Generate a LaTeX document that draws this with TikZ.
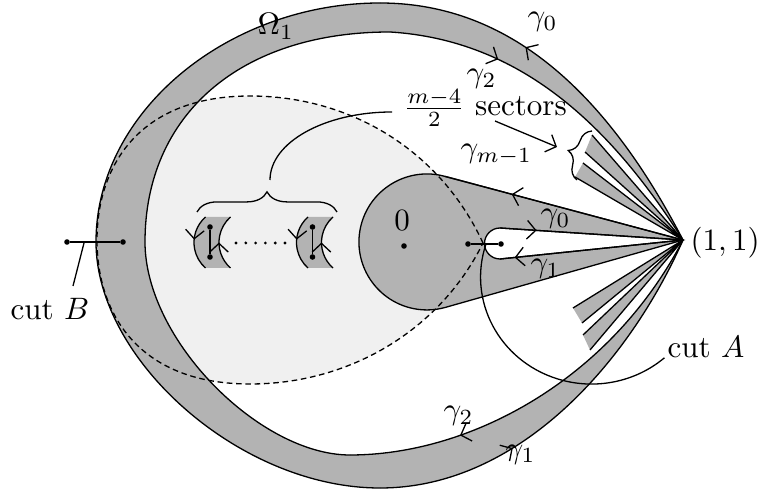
\documentclass[tikz,border=0pt]{standalone}
\usetikzlibrary{arrows.meta,decorations.markings,decorations.pathreplacing}
\definecolor{bandgray}{RGB}{179,179,179}
\definecolor{lightfill}{RGB}{240,240,240}
\begin{document}
\begin{tikzpicture}[x=0.3225pt,y=-0.3225pt,line width=0.42pt,
  >={Straight Barb[length=2.8pt,width=6pt]},
  fwd/.style={postaction={decorate,decoration={markings,mark=at position #1 with {\arrow{>}}}}},
  bwd/.style={postaction={decorate,decoration={markings,mark=at position #1 with {\arrowreversed{>}}}}},
  lbl/.style={inner sep=0pt,anchor=base west},
  bigdot/.style={circle,fill=black,inner sep=0pt,minimum size=1.8pt},
  smalldot/.style={circle,fill=black,inner sep=0pt,minimum size=1pt},
  dashline/.style={dash pattern=on 1.8pt off 1.2pt},
  stripfill/.style={fill=bandgray},
  bracestyle/.style={decorate,decoration={brace,amplitude=#1}}]
\useasboundingbox (0,0) rectangle (761,491);
\coordinate (V) at (683,240);
\coordinate (R) at (483,243);
% light region inside dashed curve
\fill[lightfill] (R) .. controls (440,150) and (350,96) .. (250,96) .. controls (140,96) and (97,165) .. (97,240) .. controls (97,315) and (140,384) .. (250,384) .. controls (350,384) and (440,330) .. (R) -- cycle;
% band Omega_1
\fill[bandgray,even odd rule] (V) .. controls (600,80) and (500,3) .. (380,3) .. controls (230,3) and (96,110) .. (96,242) .. controls (96,360) and (240,488) .. (380,488) .. controls (520,488) and (630,360) .. (V) -- cycle
  (V) .. controls (610,125) and (520,40) .. (390,32) .. controls (240,32) and (145,115) .. (145,242) .. controls (145,340) and (260,455) .. (350,455) .. controls (470,455) and (610,380) .. (V) -- cycle;
\draw[fwd=0.62] (V) .. controls (600,80) and (500,3) .. (380,3);
\draw (380,3) .. controls (230,3) and (96,110) .. (96,242) .. controls (96,360) and (240,488) .. (380,488);
\draw[fwd=0.34] (380,488) .. controls (520,488) and (630,360) .. (V);
\draw[bwd=0.7] (V) .. controls (610,125) and (520,40) .. (390,32);
\draw (390,32) .. controls (240,32) and (145,115) .. (145,242) .. controls (145,340) and (260,455) .. (350,455);
\draw[bwd=0.27] (350,455) .. controls (470,455) and (610,380) .. (V);
% truncated sectors
\coordinate (s1a) at (592,135); \coordinate (s1b) at (585,152);
\coordinate (s2a) at (583,163); \coordinate (s2b) at (575,177);
\coordinate (s3a) at (573,308); \coordinate (s3b) at (582,323);
\coordinate (s4a) at (583,335); \coordinate (s4b) at (590,350);
\foreach \p/\q in {s1a/s1b,s2a/s2b,s3a/s3b,s4a/s4b}{
  \fill[stripfill] (V) -- (\p) -- (\q) -- cycle;
  \draw (\p) -- (V) -- (\q);
}
% central tongue
\coordinate (T1) at (445,176.4);
\filldraw[fill=bandgray] (V) -- (T1) arc[start angle=285.4,end angle=74.6,radius=68] -- cycle;
\draw[fwd=0.72] (V) -- (T1);
% slot
\coordinate (H1) at (500,228); \coordinate (H2) at (500,259);
\filldraw[fill=white] (V) -- (H1) arc[start angle=270,end angle=90,radius=15.5] -- cycle;
\draw[fwd=0.2] (H1) -- (V);
\draw[fwd=0.92] (V) -- (H2);
% dashed curve
\draw[dashline] (R) .. controls (440,150) and (350,96) .. (250,96) .. controls (140,96) and (97,165) .. (97,240) .. controls (97,315) and (140,384) .. (250,384) .. controls (350,384) and (440,330) .. (R) -- cycle;
% small sectors (crescents)
\foreach \dx in {0,102.5}{
  \begin{scope}[shift={(\dx,0)}]
    \fill[bandgray] (205.5,217) arc[start angle=228.6,end angle=131.4,radius=34] -- (230.5,268) arc[start angle=131.4,end angle=228.6,radius=34] -- cycle;
    \draw[fwd=0.45] (205.5,217) arc[start angle=228.6,end angle=131.4,radius=34];
    \draw[fwd=0.5] (230.5,268) arc[start angle=131.4,end angle=228.6,radius=34];
    \node[bigdot] (ta) at (210,227) {};
    \node[bigdot] (tb) at (210,257) {};
    \draw (ta) -- (tb);
  \end{scope}
}
\foreach \k in {0,...,5}{ \node[smalldot] (d\k) at ({236+9.8*\k},243) {}; }
% brace over crescents and leader
\coordinate (b1) at (197,212); \coordinate (b2) at (337,212);
\draw[bracestyle=6.5pt] (b1) -- (b2);
\coordinate (lA) at (270,180);
\draw (lA) arc[start angle=180,end angle=270,x radius=122,y radius=68];
% brace at strips
\coordinate (c1) at (577,180); \coordinate (c2) at (592,131);
\draw[bracestyle=5.5pt] (c1) -- (c2);
% labels
\node[lbl] (om) at (257,35) {$\Omega_1$};
\node[lbl] (g0t) at (527,26) {$\gamma_0$};
\node[lbl] (g2t) at (466,83) {$\gamma_2$};
\node[lbl] (sec) at (403,116) {$\frac{m-4}{2}$ sectors};
\node[lbl] (gm) at (460,158) {$\gamma_{m-1}$};
\node[lbl] (g0h) at (540,223) {$\gamma_0$};
\node[lbl] (g1h) at (530,273) {$\gamma_1$};
\node[inner sep=0pt,anchor=base] (zero) at (402,231) {$0$};
\node[lbl] (one) at (690,251) {$(1,1)$};
\node[lbl] (cutA) at (667,358) {cut $A$};
\node[lbl] (cutB) at (10,320) {cut $B$};
\node[lbl] (g2b) at (443,420) {$\gamma_2$};
\node[lbl] (g1b) at (505,458) {$\gamma_1$};
% arrow from label to strips brace
\coordinate (ar0) at (495,121); \coordinate (ar1) at (557,147);
\draw[->] (ar0) -- (ar1);
% origin dot
\node[bigdot] (o) at (404,246) {};
% cut A
\node[bigdot] (ca1) at (468,244) {};
\node[bigdot] (ca2) at (501,244) {};
\draw (ca1) -- (ca2);
\coordinate (cA0) at (486,244);
\draw (cA0) arc[start angle=198,end angle=49,x radius=111,y radius=107];
% cut B
\node[bigdot] (cb1) at (67,242) {};
\node[bigdot] (cb2) at (123,242) {};
\draw (cb1) -- (cb2);
\coordinate (lb0) at (84,243); \coordinate (lb1) at (73,286);
\draw (lb0) -- (lb1);
\end{tikzpicture}
\end{document}
